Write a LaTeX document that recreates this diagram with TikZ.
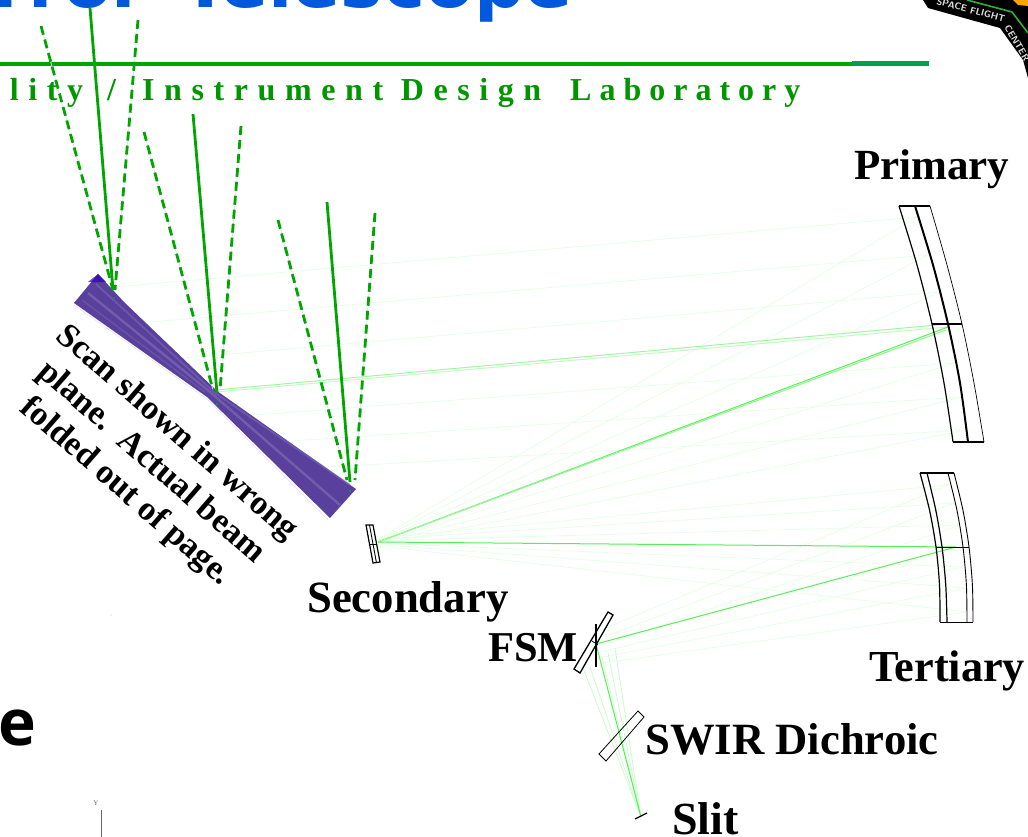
\documentclass[tikz,border=0pt]{standalone}
\usepackage{fontspec}
\setmainfont{Liberation Serif}
\newfontfamily\titlefont{DejaVu Sans}
\newfontfamily\tailfont{Open Sans}
\newfontfamily\subfont[LetterSpace=30]{Liberation Serif}
\newfontfamily\labfont[LetterSpace=25]{Liberation Serif}
\definecolor{titleblue}{HTML}{0059DC}
\definecolor{rulegreen}{HTML}{00A500}
\definecolor{rulegreenb}{HTML}{00A050}
\definecolor{subgreen}{HTML}{009600}
\definecolor{rayfaint}{HTML}{E4FFE4}
\definecolor{raymain}{HTML}{55F055}
\definecolor{scanblue}{HTML}{58409C}
\definecolor{scanlight}{HTML}{7A68B4}
\definecolor{lav}{HTML}{E6DCFF}
\tikzset{
  faintray/.style={rayfaint,line width=0.7pt},
  mainray/.style={raymain,line width=1pt},
  mirroredge/.style={black,line width=1.2pt,line join=miter},
  beamsolid/.style={rulegreen,line width=2.8pt},
  beamdash/.style={rulegreen,line width=2.8pt,dash pattern=on 9pt off 5pt},
  beamback/.style={lav,line width=0.8pt},
  lbl/.style={font=\fontsize{#1}{#1}\selectfont\bfseries,anchor=base west,inner sep=0pt,black},
  subtext/.style={anchor=base west,inner sep=0pt,text=subgreen,font=\subfont\fontsize{32}{34}\selectfont\bfseries},
  titletext/.style={anchor=base west,inner sep=0pt,text=titleblue,font=\titlefont\fontsize{71}{74}\selectfont\bfseries},
  logotext/.style={text=black!12,inner sep=0pt,font=\sffamily\bfseries\fontsize{9.5}{9.5}\selectfont},
}
\begin{document}
\begin{tikzpicture}[x=1pt,y=-1pt]
\useasboundingbox (0,0) rectangle (1028,837);
\clip (0,0) rectangle (1028,837);
\fill[white] (0,0) rectangle (1028,837);
% title fragments
\node[titletext] (titlea) at (-102,8) {Mirror};
\node[titletext] (titleb) at (181,8) {Telescope};
\node[anchor=base west,inner sep=0pt,text=black,font=\tailfont\fontsize{64}{66}\selectfont\bfseries] (tail) at (-2,745) {e};
% logo
\fill[black] (923,0) -- (928,8) -- (1000,28) -- (1023,60) -- (1028,78) -- (1028,0) -- cycle;
\draw[green!60!black!80,line width=1.6pt] (967,0) -- (1012,12) -- (1028,33);
\fill[orange!70!yellow] (1013,0) -- (1028,0) -- (1028,6) -- (1018,5) -- cycle;
\node[rotate=-15,logotext] (logoa) at (971,10) {SPACE FLIGHT};
\node[rotate=-60,logotext] (logob) at (1017,43) {CENTER};
% header rule
\fill[rulegreen] (0,62) rectangle (852,66);
\fill[rulegreenb] (852,61) rectangle (929,66);
\node[subtext] (suba) at (-16,101) {ality};
\node[subtext] (subs) at (107,101) {/};
\node[subtext] (subb) at (142,101) {Instrument Design};
\node[subtext,font=\labfont\fontsize{32}{34}\selectfont\bfseries] (subc) at (570,101) {Laboratory};
% faint rays
\coordinate (sec) at (378,542);
\coordinate (fsm) at (596,644);
\coordinate (slit) at (641,817);
\foreach \pa/\pb/\ma/\mb in {917/217/115/287, 928/255/150/322, 940/292/185/358, 955/363/240/416, 962/397/275/442, 967/430/312/468}{
  \draw[faintray] (\ma,\mb) -- (\pa,\pb);
  \draw[faintray] (378,{542+(\pb-327)/40}) -- (\pa,\pb);
}
\foreach \ta/\tb/\fa/\fb in {948/485/601/630, 955/503/604/637, 960/525/606/644, 963/567/600/652, 967/588/598/658, 967/612/596/664}{
  \draw[faintray] (378,{542+(\tb-547)/16}) -- (\ta,\tb);
  \draw[faintray] (\fa,\fb) -- (\ta,\tb);
}
\foreach \fa/\fb in {583/668, 590/667, 602/658, 608/653, 615/648}{
  \draw[faintray,rayfaint!80!raymain] (\fa,\fb) -- (slit);
}
% main rays
\draw[mainray,raymain!35!white] (216,392) -- (948,327);
\draw[mainray,raymain!55!white] (216,390) -- (948,324) ;
\draw[mainray] (sec) -- (948,327);
\draw[mainray,raymain!60!white,line width=1.2pt] (sec) -- (946,330);
\draw[mainray] (sec) -- (956,547);
\draw[mainray] (fsm) -- (956,547);
\draw[mainray] (fsm) -- (slit);
% scan mirror
\fill[scanblue] (98,274) -- (124,302) -- (217,391) -- (356,489) -- (330,518) -- (207,397) -- (74,303) -- cycle;
\fill[blue!60!violet!90!black,opacity=.7] (98,274) -- (106,282) -- (88,282) -- cycle;
\draw[scanlight,line width=2.4pt,opacity=.75] (88,293) -- (210,392) -- (340,505);
\draw[scanlight,line width=1.8pt,opacity=.6] (96,284) -- (215,393) -- (350,485);
\draw[scanlight,line width=1.5pt,opacity=.45] (82,300) -- (205,392);
\draw[lav,line width=.5pt] (74,305) -- (207,399) -- (328,520);
% primary
\draw[mirroredge] (899,206) -- (930,206);
\draw[mirroredge,line width=1.6pt] (899,206) -- (915,206);
\draw[mirroredge,line width=1.6pt] (932,324) -- (962,324);
\draw[mirroredge] (953,442) -- (984,442);
\draw[mirroredge] plot[smooth] coordinates {(899,206) (917,265) (932,324) (944,383) (953,442)};
\draw[mirroredge,line width=2pt] plot[smooth] coordinates {(915,206) (933,265) (948,324) (960,383) (968,442)};
\draw[mirroredge,line width=.7pt] plot[smooth] coordinates {(930,206) (947,265) (962,324) (974,383) (984,442)};
% tertiary
\draw[mirroredge,line width=1.4pt] (920,473) -- (954,473);
\draw[mirroredge,line width=1pt] (936,547) -- (969,547);
\draw[mirroredge,line width=1pt] (940,622) -- (973,622);
\draw[mirroredge] plot[smooth] coordinates {(920,473) (929.5,510) (936,547) (939.5,585) (940,622)};
\draw[mirroredge] plot[smooth] coordinates {(927,473) (935.75,510) (942,547) (945.75,585) (947,622)};
\draw[mirroredge,line width=.9pt] plot[smooth] coordinates {(948,473) (956.9,510) (963,547) (966.4,585) (967,622)};
\draw[mirroredge,line width=.9pt] plot[smooth] coordinates {(954,473) (962.9,510) (969,547) (972.4,585) (973,622)};
% secondary
\draw[mirroredge] (366,525) -- (373,525) -- (380,562) -- (373,563) -- cycle;
\draw[mirroredge,line width=.9pt] (369.5,525) -- (376.5,563);
\draw[mirroredge,line width=.9pt] (370,544) -- (377,544);
% FSM
\draw[mirroredge,line width=1.3pt] (608,612) -- (613,615) -- (580,673) -- (574,669) -- cycle;
\draw[mirroredge] (596,624) -- (596,667);
\draw[mirroredge,line width=.7pt] (592,641) -- (598,645);
% SWIR dichroic
\draw[mirroredge,line width=.8pt] (638,711) -- (644,717) -- (606,761) -- (599,754) -- cycle;
% slit
\draw[mirroredge] (635,819) -- (647,813);
% beams
\foreach \sa/\sb/\ea/\eb in {41/26/113/290, 138/20/115/290, 144/132/213/390, 241/126/220/390, 278/220/347/480, 375/213/355/480}{
  \draw[beamback] (\sa,\sb) -- (\ea,\eb);
  \draw[beamdash] (\sa,\sb) -- (\ea,\eb);
}
\draw[beamsolid] (90,8) -- (113,290);
\draw[beamsolid] (193,114) -- (217,393);
\draw[beamsolid] (327,202) -- (350,482);
\fill[rulegreenb] (114,298) circle (1.2) (217,404) circle (1.2) (350,491) circle (1.2);
% labels
\node[lbl=43] (primary) at (854,180) {Primary};
\node[lbl=44.7] (secondary) at (307,612) {Secondary};
\node[lbl=44.3] (tertiary) at (869,681) {Tertiary};
\node[lbl=42.5] (fsmlabel) at (488,661) {FSM};
\node[lbl=44.7] (swir) at (645,754) {SWIR Dichroic};
\node[lbl=46] (slitlabel) at (672,834) {Slit};
\node[rotate=-41,align=center,inner sep=0pt,font=\fontsize{34}{39}\selectfont\bfseries] (scan) at (151,463) {Scan shown in wrong\\plane.\ \ Actual beam\\folded out of page.};
% axis fragment
\draw[black!60,line width=1pt] (101.5,810) -- (101.5,837);
\node[inner sep=0pt,text=black!60,font=\fontsize{7}{7}\selectfont] (axy) at (96,803) {Y};
\fill[black!70] (111,615) circle (.4);
\end{tikzpicture}
\end{document}
